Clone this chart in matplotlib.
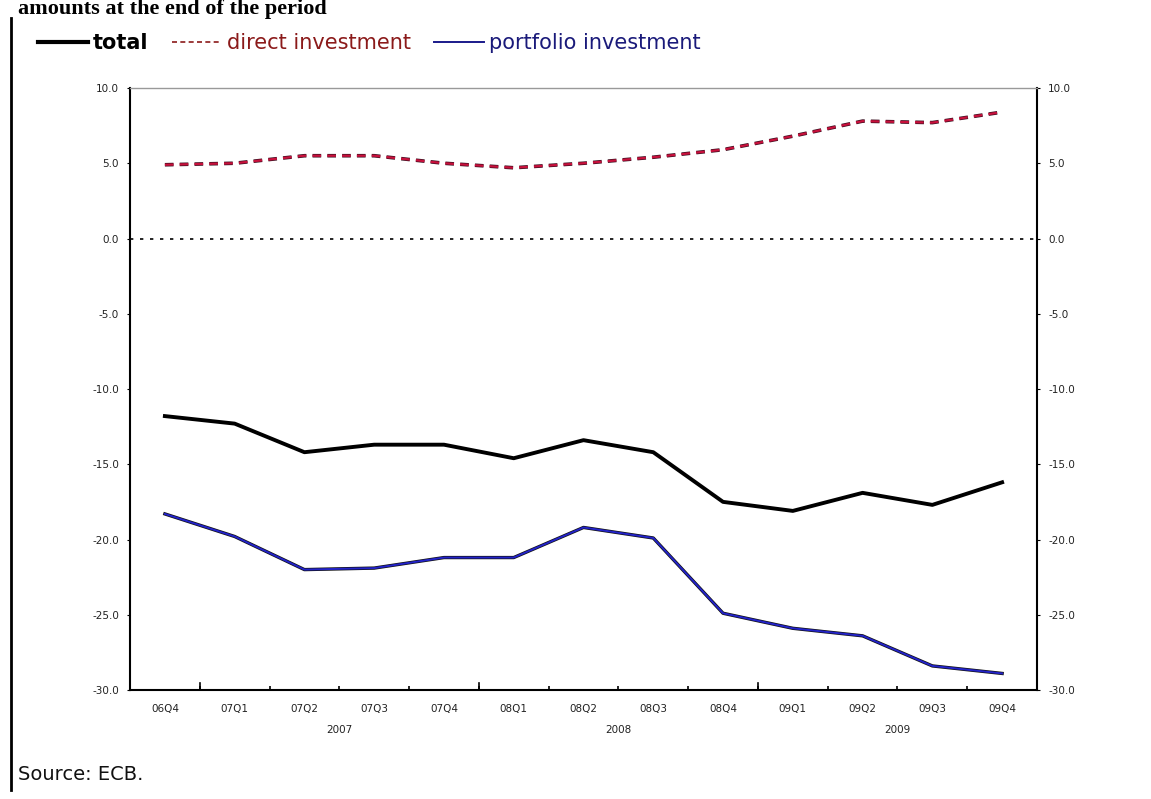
import matplotlib
matplotlib.use("Agg")
import matplotlib.pyplot as plt
from matplotlib.lines import Line2D
from matplotlib.ticker import FixedLocator, FuncFormatter

plt.rcParams['axes.unicode_minus'] = False
plt.rcParams['font.family'] = ['DejaVu Sans']

quarters = ["06Q4", "07Q1", "07Q2", "07Q3", "07Q4", "08Q1", "08Q2",
            "08Q3", "08Q4", "09Q1", "09Q2", "09Q3", "09Q4"]
years = ["2007", "2008", "2009"]
total = [-11.8, -12.3, -14.2, -13.7, -13.7, -14.6, -13.4, -14.2, -17.5, -18.1, -16.9, -17.7, -16.2]
direct = [4.9, 5.0, 5.5, 5.5, 5.0, 4.7, 5.0, 5.4, 5.9, 6.8, 7.8, 7.7, 8.4]
portfolio = [-18.3, -19.8, -22.0, -21.9, -21.2, -21.2, -19.2, -19.9, -24.9, -25.9, -26.4, -28.4, -28.9]
yticks = [-30, -25, -20, -15, -10, -5, 0, 5, 10]

W, H = 1151, 799
fig = plt.figure(figsize=(W / 100, H / 100), dpi=100)
fig.patch.set_facecolor("white")

L, R, T, B = 130, 1037, 88, 690
ax = fig.add_axes([L / W, 1 - B / H, (R - L) / W, (B - T) / H])
x = list(range(len(quarters)))

ax.axhline(0, color="black", lw=1.2, linestyle=(0, (2, 4)), zorder=1)
ax.plot(x, total, color="black", lw=2.8, solid_joinstyle="round", zorder=3)
ax.plot(x, portfolio, color="#111111", lw=2.4, zorder=2)
ax.plot(x, portfolio, color="#2323c8", lw=1.4, zorder=3)
ax.plot(x, direct, color="#3a1020", lw=2.6, linestyle=(0, (2.4, 1.7)), zorder=2)
ax.plot(x, direct, color="#c8103c", lw=1.6, linestyle=(0, (3.9, 2.76)), zorder=3)

ax.set_xlim(-0.5, len(quarters) - 0.5)
ax.set_ylim(-30, 10)
ax.yaxis.set_major_locator(FixedLocator(yticks))
ax.yaxis.set_major_formatter(FuncFormatter(lambda v, p: f"{v:.1f}"))
ax.tick_params(axis="y", which="both", left=True, right=True, labelleft=True,
               labelright=True, direction="out", length=2, labelsize=7.5,
               labelcolor="#222222", pad=6)

# x: labels at categories, ticks at boundaries
ax.set_xticks(x)
ax.set_xticklabels(quarters, fontsize=7.5, color="#222222")
ax.tick_params(axis="x", which="major", length=0, pad=10)
bounds = [i + 0.5 for i in range(len(quarters) - 1)]
year_bounds = [b for b in bounds if quarters[int(b + 0.5)].endswith("Q1")]
ax.set_xticks(bounds, minor=True)
ax.tick_params(axis="x", which="minor", direction="in", length=3, width=1.2)
for b in year_bounds:
    ax.plot([b, b], [0, 0.012], transform=ax.get_xaxis_transform(), color="black",
            lw=1.2, clip_on=False)

# year labels centred on Q2/Q3 boundary
for yr in years:
    yy = yr[2:]
    idx = [i for i, q in enumerate(quarters) if q.startswith(yy)]
    c = (min(idx) + max(idx)) / 2 if len(idx) < 4 else (idx[1] + idx[2]) / 2
    ax.text(c, -0.058, yr, transform=ax.get_xaxis_transform(), ha="center",
            va="top", fontsize=7.5, color="#222222")

for s in ax.spines.values():
    s.set_linewidth(1.5)
ax.spines["top"].set_color("#999999")
ax.spines["top"].set_linewidth(1.0)

# legend
handles = [Line2D([], [], color="black", lw=3),
           Line2D([], [], color="#8b1a1a", lw=1.2, linestyle=(0, (3, 2))),
           Line2D([], [], color="#1a1a8a", lw=1.4)]
labels = ["total", "direct investment", "portfolio investment"]
leg = fig.legend(handles, labels, loc="center left", bbox_to_anchor=(38 / W, 1 - 43 / H),
                 ncol=3, frameon=False, fontsize=15, handlelength=2.4,
                 handletextpad=0.25, columnspacing=1.1, borderaxespad=0,
                 borderpad=0)
for t, c, w in zip(leg.get_texts(), ["black", "#8b1a1a", "#1a1a7a"],
                   ["bold", "normal", "normal"]):
    t.set_color(c)
    t.set_fontweight(w)

# title (cut off at top in the reference)
fig.text(18 / W, 1 - 14 / H, "amounts at the end of the period", ha="left",
         va="baseline", fontsize=16, fontweight="bold", family="Liberation Serif")
# left bar
fig.add_artist(Line2D([11 / W, 11 / W], [1 - 18 / H, 1 - 790 / H], color="black", lw=2))
fig.text(18 / W, 1 - 775 / H, "Source: ECB.", ha="left", va="center", fontsize=14,
         color="#111111")

fig.savefig("out.png", dpi=100)
